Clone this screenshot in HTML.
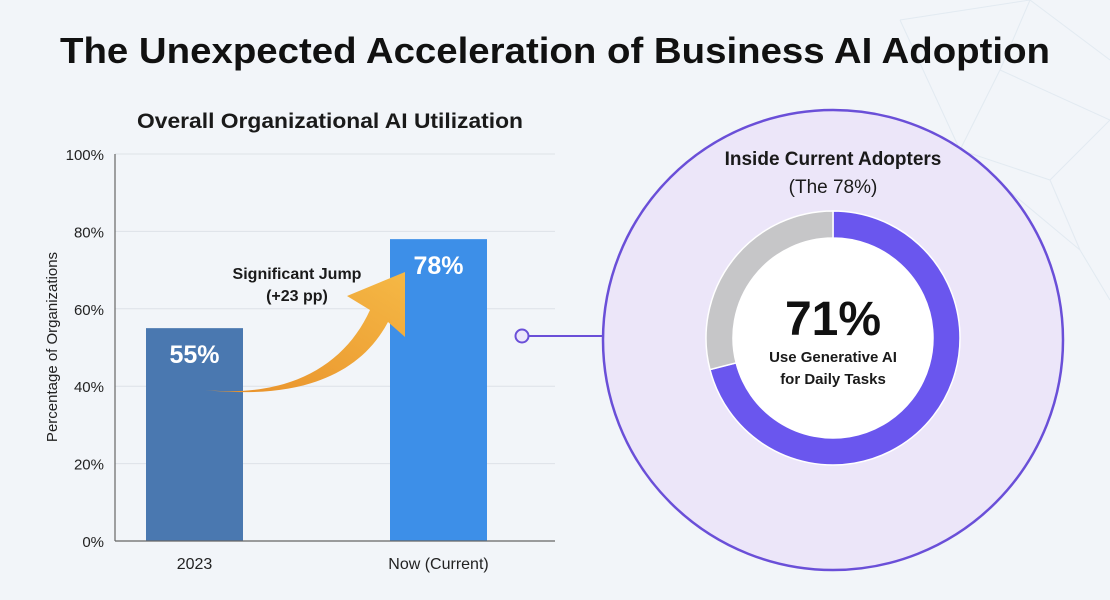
<!DOCTYPE html>
<html><head><meta charset="utf-8"><style>
body{margin:0;width:1110px;height:600px;background:#f2f5f9;overflow:hidden;font-family:"Liberation Sans",sans-serif}
svg{display:block}
</style></head><body>
<svg width="1110" height="600" viewBox="0 0 1110 600">
<defs>
<linearGradient id="ag" x1="0" y1="1" x2="1" y2="0"><stop offset="0" stop-color="#e8902a"/><stop offset="1" stop-color="#f5b845"/></linearGradient>
</defs>
<g stroke="#dbe5ee" stroke-width="1" fill="none" opacity="0.7">
<path d="M900 20 L1030 0 M1030 0 L1110 60 M1030 0 L1000 70 L1110 120 M1000 70 L960 150 L1050 180 L1110 120 M960 150 L1080 250 M1050 180 L1080 250 L1110 300 M900 20 L960 150"/>
</g>
<text x="555" y="63" text-anchor="middle" font-size="36" font-weight="bold" fill="#111" textLength="990" lengthAdjust="spacingAndGlyphs">The Unexpected Acceleration of Business AI Adoption</text>
<text x="330" y="128" text-anchor="middle" font-size="21" font-weight="bold" fill="#1a1a1a" textLength="386" lengthAdjust="spacingAndGlyphs">Overall Organizational AI Utilization</text>
<g id="grid"></g>
<g id="yticks"></g>
<text transform="translate(57,347) rotate(-90)" text-anchor="middle" font-size="15" fill="#222">Percentage of Organizations</text>
<g id="bars"></g>
<line x1="115" y1="154" x2="115" y2="541" stroke="#666" stroke-width="1.2"/>
<line x1="115" y1="541" x2="555" y2="541" stroke="#666" stroke-width="1.2"/>
<path d="M205 390 C290 398 345 365 370 310 L347 296 L405 272 L405 337 L388 322 C360 375 300 400 205 390 Z" fill="url(#ag)"/>
<text x="297" y="279" text-anchor="middle" font-size="16" font-weight="bold" fill="#1a1a1a">Significant Jump</text>
<text x="297" y="301" text-anchor="middle" font-size="16" font-weight="bold" fill="#1a1a1a">(+23 pp)</text>
<line x1="522" y1="336" x2="604" y2="336" stroke="#6a4fd8" stroke-width="2"/>
<circle cx="522" cy="336" r="6.5" fill="#ece6fb" stroke="#6a4fd8" stroke-width="2"/>
<circle cx="833" cy="340" r="230" fill="#ece6f9" stroke="#6a4fd8" stroke-width="2.5"/>
<text x="833" y="165" text-anchor="middle" font-size="19" font-weight="bold" fill="#1a1a1a">Inside Current Adopters</text>
<text x="833" y="193" text-anchor="middle" font-size="19" fill="#1a1a1a">(The 78%)</text>
<circle cx="833" cy="338" r="100" fill="#fff"/>
<g id="donut"></g>
<text id="bigpct" x="833" y="335" text-anchor="middle" font-size="48" font-weight="bold" fill="#111">71%</text>
<text x="833" y="362" text-anchor="middle" font-size="15" font-weight="bold" fill="#1a1a1a">Use Generative AI</text>
<text x="833" y="384" text-anchor="middle" font-size="15" font-weight="bold" fill="#1a1a1a">for Daily Tasks</text>
</svg>
<script>
const categories=["2023","Now (Current)"];
const values=[55,78];
const valueLabels=["55%","78%"];
const yTicks=[0,20,40,60,80,100];
const donutValues=[71,29];
const NS="http://www.w3.org/2000/svg";
function y(v){return 541-v*3.87;}
function xBand(i){return 146+i*244;}
const bw=97, colors=["#4a78b0","#3d8fe8"];
const grid=document.getElementById('grid'),yt=document.getElementById('yticks'),bars=document.getElementById('bars');
yTicks.forEach(t=>{
 if(t>0){const l=document.createElementNS(NS,'line');
 l.setAttribute('x1',115);l.setAttribute('x2',555);l.setAttribute('y1',y(t));l.setAttribute('y2',y(t));
 l.setAttribute('stroke','#dde2e8');l.setAttribute('stroke-width','1');
 
 
 grid.appendChild(l);}
 const tx=document.createElementNS(NS,'text');
 tx.setAttribute('x',104);tx.setAttribute('y',y(t)+6);tx.setAttribute('text-anchor','end');
 tx.setAttribute('font-size','15');tx.setAttribute('fill','#222');tx.textContent=t+'%';
 
 
 yt.appendChild(tx);
});
values.forEach((v,i)=>{
 const r=document.createElementNS(NS,'rect');
 r.setAttribute('x',xBand(i));r.setAttribute('y',y(v));r.setAttribute('width',bw);r.setAttribute('height',541-y(v));
 r.setAttribute('fill',colors[i]);
 
 
 bars.appendChild(r);
 const t=document.createElementNS(NS,'text');
 t.setAttribute('x',xBand(i)+bw/2);t.setAttribute('y',y(v)+35);t.setAttribute('text-anchor','middle');
 t.setAttribute('font-size','25');t.setAttribute('font-weight','bold');t.setAttribute('fill','#fff');t.textContent=valueLabels[i];
 
 
 bars.appendChild(t);
 const c=document.createElementNS(NS,'text');
 c.setAttribute('x',xBand(i)+bw/2);c.setAttribute('y',569);c.setAttribute('text-anchor','middle');
 c.setAttribute('font-size','16');c.setAttribute('fill','#222');c.textContent=categories[i];
 
 
 bars.appendChild(c);
});
const dg=document.getElementById('donut');
const cx=833,cy=338,ro=127,ri=100,dcol=["#6a56ee","#c6c6c8"];
let acc=0;const tot=donutValues.reduce((a,b)=>a+b,0);
donutValues.forEach((v,i)=>{
 const a0=acc/tot*2*Math.PI,a1=(acc+v)/tot*2*Math.PI;acc+=v;
 const p=(r,a)=>[cx+r*Math.sin(a),cy-r*Math.cos(a)];
 const [x0,y0]=p(ro,a0),[x1,y1]=p(ro,a1),[x2,y2]=p(ri,a1),[x3,y3]=p(ri,a0);
 const lg=(a1-a0)>Math.PI?1:0;
 const path=document.createElementNS(NS,'path');
 path.setAttribute('d',`M${x0} ${y0} A${ro} ${ro} 0 ${lg} 1 ${x1} ${y1} L${x2} ${y2} A${ri} ${ri} 0 ${lg} 0 ${x3} ${y3} Z`);
 path.setAttribute('fill',dcol[i]);path.setAttribute('stroke','#fff');path.setAttribute('stroke-width','1.5');
 
 
 dg.appendChild(path);
});
document.getElementById('bigpct').textContent=donutValues[0]+'%';
</script>
</body></html>
